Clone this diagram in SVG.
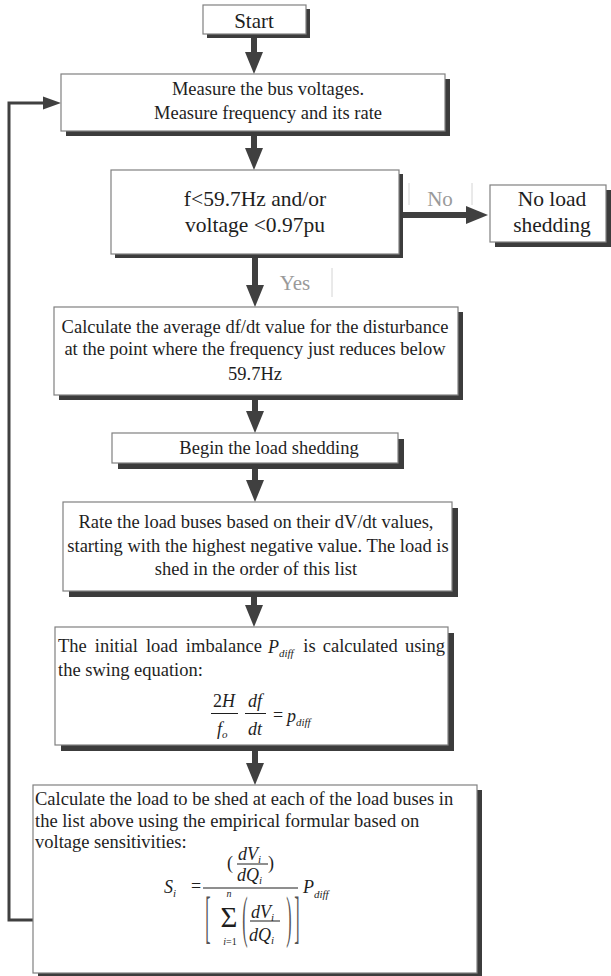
<svg xmlns="http://www.w3.org/2000/svg" width="611" height="976" viewBox="0 0 611 976">
<defs>
<style>
.box{fill:#fff;stroke:#808080;stroke-width:1.2}
.sh{fill:#3c3c3c}
.t{font-family:"Liberation Serif","Times New Roman",serif;font-size:18.5px;fill:#1e1e1e}
.big{font-size:21.5px}
.lbl{font-family:"Liberation Serif","Times New Roman",serif;font-size:21px;fill:#9a9a9a}
.lblline{stroke:#d4d4d4;stroke-width:1}
.m{font-family:"Liberation Serif","Times New Roman",serif;font-size:18px;fill:#1e1e1e;font-style:italic}
.up{font-style:normal}
.sub{font-size:11px}
.dl{fill:#555}
.bar{stroke:#1e1e1e;stroke-width:1}
.c{text-anchor:middle}
.conn{stroke:#404040;stroke-width:6;fill:none}
.fb{stroke:#404040;stroke-width:3;fill:none}
</style>
<marker id="ah" markerUnits="userSpaceOnUse" viewBox="0 -10 22 20" markerWidth="22" markerHeight="20" refX="0" refY="0" orient="auto">
<path d="M0,-9 L22,0 L0,9 Z" fill="#404040"/>
</marker>
<marker id="ahs" markerUnits="userSpaceOnUse" viewBox="0 -7 18 14" markerWidth="18" markerHeight="14" refX="0" refY="0" orient="auto">
<path d="M0,-6.5 L18,0 L0,6.5 Z" fill="#404040"/>
</marker>
</defs>
<rect width="611" height="976" fill="#fff"/>

<g id="connectors">
<line class="conn" x1="254" y1="34" x2="254" y2="52" marker-end="url(#ah)"/>
<line class="conn" x1="254" y1="131" x2="254" y2="148" marker-end="url(#ah)"/>
<line class="conn" x1="399" y1="215" x2="466" y2="215" marker-end="url(#ah)"/>
<line class="conn" x1="255" y1="254" x2="255" y2="285" marker-end="url(#ah)"/>
<line class="conn" x1="255" y1="395" x2="255" y2="411" marker-end="url(#ah)"/>
<line class="conn" x1="255" y1="463" x2="255" y2="480" marker-end="url(#ah)"/>
<line class="conn" x1="254" y1="591" x2="254" y2="605" marker-end="url(#ah)"/>
<line class="conn" x1="255" y1="745" x2="255" y2="763" marker-end="url(#ah)"/>
<polyline class="fb" points="33,920 9,920 9,103 43,103" marker-end="url(#ahs)"/>
<g id="label-no">
<line class="lblline" x1="409" y1="183" x2="409" y2="205"/>
<line class="lblline" x1="472" y1="183" x2="472" y2="205"/>
<text class="lbl c" x="440" y="206">No</text>
</g>
<g id="label-yes">
<line class="lblline" x1="332" y1="268" x2="332" y2="297"/>
<text class="lbl c" x="295" y="290">Yes</text>
</g>
</g>

<g id="start">
<rect class="sh" x="207" y="9" width="103" height="29"/>
<rect class="box" x="203" y="5" width="103" height="29"/>
<text class="t c" x="254" y="28" style="font-size:21px">Start</text>
</g>

<g id="measure">
<rect class="sh" x="66" y="79" width="384" height="57"/>
<rect class="box" x="61" y="74" width="384" height="57"/>
<text class="t c" x="268" y="95">Measure the bus voltages.</text>
<text class="t c" x="268" y="119">Measure frequency and its rate</text>
</g>

<g id="decision">
<rect class="sh" x="115" y="174" width="288" height="84"/>
<rect class="box" x="111" y="170" width="288" height="84"/>
<text class="t big c" x="255" y="206">f&lt;59.7Hz and/or</text>
<text class="t big c" x="255" y="232">voltage &lt;0.97pu</text>
</g>

<g id="no-shedding">
<rect class="sh" x="495" y="190" width="116" height="57"/>
<rect class="box" x="490" y="185" width="116" height="57"/>
<text class="t big c" x="552" y="206">No load</text>
<text class="t big c" x="552" y="232">shedding</text>
</g>

<g id="calc-dfdt">
<rect class="sh" x="59" y="312" width="404" height="88"/>
<rect class="box" x="54" y="307" width="404" height="88"/>
<text class="t c" x="255" y="333">Calculate the average df/dt value for the disturbance</text>
<text class="t c" x="255" y="355">at the point where the frequency just reduces below</text>
<text class="t c" x="255" y="380">59.7Hz</text>
</g>

<g id="begin">
<rect class="sh" x="118" y="439" width="286" height="30"/>
<rect class="box" x="112" y="433" width="286" height="30"/>
<text class="t c" x="269" y="454">Begin the load shedding</text>
</g>

<g id="rate">
<rect class="sh" x="69" y="508" width="389" height="89"/>
<rect class="box" x="63" y="502" width="389" height="89"/>
<text class="t c" x="256" y="528">Rate the load buses based on their dV/dt values,</text>
<text class="t c" x="258" y="552">starting with the highest negative value. The load is</text>
<text class="t c" x="256" y="575">shed in the order of this list</text>
</g>

<g id="swing">
<rect class="sh" x="61" y="633" width="393" height="118"/>
<rect class="box" x="55" y="627" width="393" height="118"/>
<text class="t" x="58" y="652" style="word-spacing:3.4px">The initial load imbalance</text>
<text class="m" x="268" y="653">P<tspan class="sub" dy="4">diff</tspan></text>
<text class="t" x="445" y="652" text-anchor="end" style="word-spacing:2.5px">is calculated using</text>
<text class="t" x="58" y="676">the swing equation:</text>
<text class="m c" x="224" y="707"><tspan class="up">2</tspan>H</text>
<line class="bar" x1="211" y1="713.5" x2="238" y2="713.5"/>
<text class="m" x="217" y="735">f<tspan class="sub" dy="3">o</tspan></text>
<text class="m c" x="255" y="707">df</text>
<line class="bar" x1="245" y1="713.5" x2="266" y2="713.5"/>
<text class="m c" x="255" y="735">dt</text>
<text class="m up c" x="278" y="721">=</text>
<text class="m" x="287" y="722">p<tspan class="sub" dy="4">diff</tspan></text>
</g>

<g id="load-calc">
<rect class="sh" x="38" y="790" width="444" height="188"/>
<rect class="box" x="33" y="785" width="444" height="188"/>
<text class="t" x="35" y="805">Calculate the load to be shed at each of the load buses in</text>
<text class="t" x="35" y="827">the list above using the empirical formular based on</text>
<text class="t" x="35" y="848">voltage sensitivities:</text>
<text class="m up" x="227" y="869">(</text>
<text class="m" x="238" y="860">dV<tspan class="sub" dy="3">i</tspan></text>
<line class="bar" x1="237" y1="864" x2="268" y2="864"/>
<text class="m" x="237" y="881">dQ<tspan class="sub" dy="3">i</tspan></text>
<text class="m up" x="268" y="869">)</text>
<text class="m" x="164" y="893">S<tspan class="sub" dy="4">i</tspan></text>
<text class="m up" x="191" y="892">=</text>
<line class="bar" x1="203" y1="888" x2="298" y2="888"/>
<text class="m" x="303" y="893">P<tspan class="sub" dy="5">diff</tspan></text>
<text class="m up c dl" transform="translate(208,936) scale(0.8,2.8)" style="font-size:20px">[</text>
<text class="m up c dl" transform="translate(297,936) scale(0.8,2.8)" style="font-size:20px">]</text>
<text class="m up c" x="229" y="927" style="font-size:29px">Σ</text>
<text class="m sub c" x="229" y="897" style="font-size:10px">n</text>
<text class="m sub c" x="230" y="945" style="font-size:10px">i<tspan class="up">=1</tspan></text>
<text class="m up c dl" transform="translate(245,936) scale(0.8,2.8)" style="font-size:20px">(</text>
<text class="m up c dl" transform="translate(289,936) scale(0.8,2.8)" style="font-size:20px">)</text>
<text class="m" x="251" y="918">dV<tspan class="sub" dy="3">i</tspan></text>
<line class="bar" x1="250" y1="921" x2="280" y2="921"/>
<text class="m" x="249" y="941">dQ<tspan class="sub" dy="3">i</tspan></text>
</g>
</svg>
